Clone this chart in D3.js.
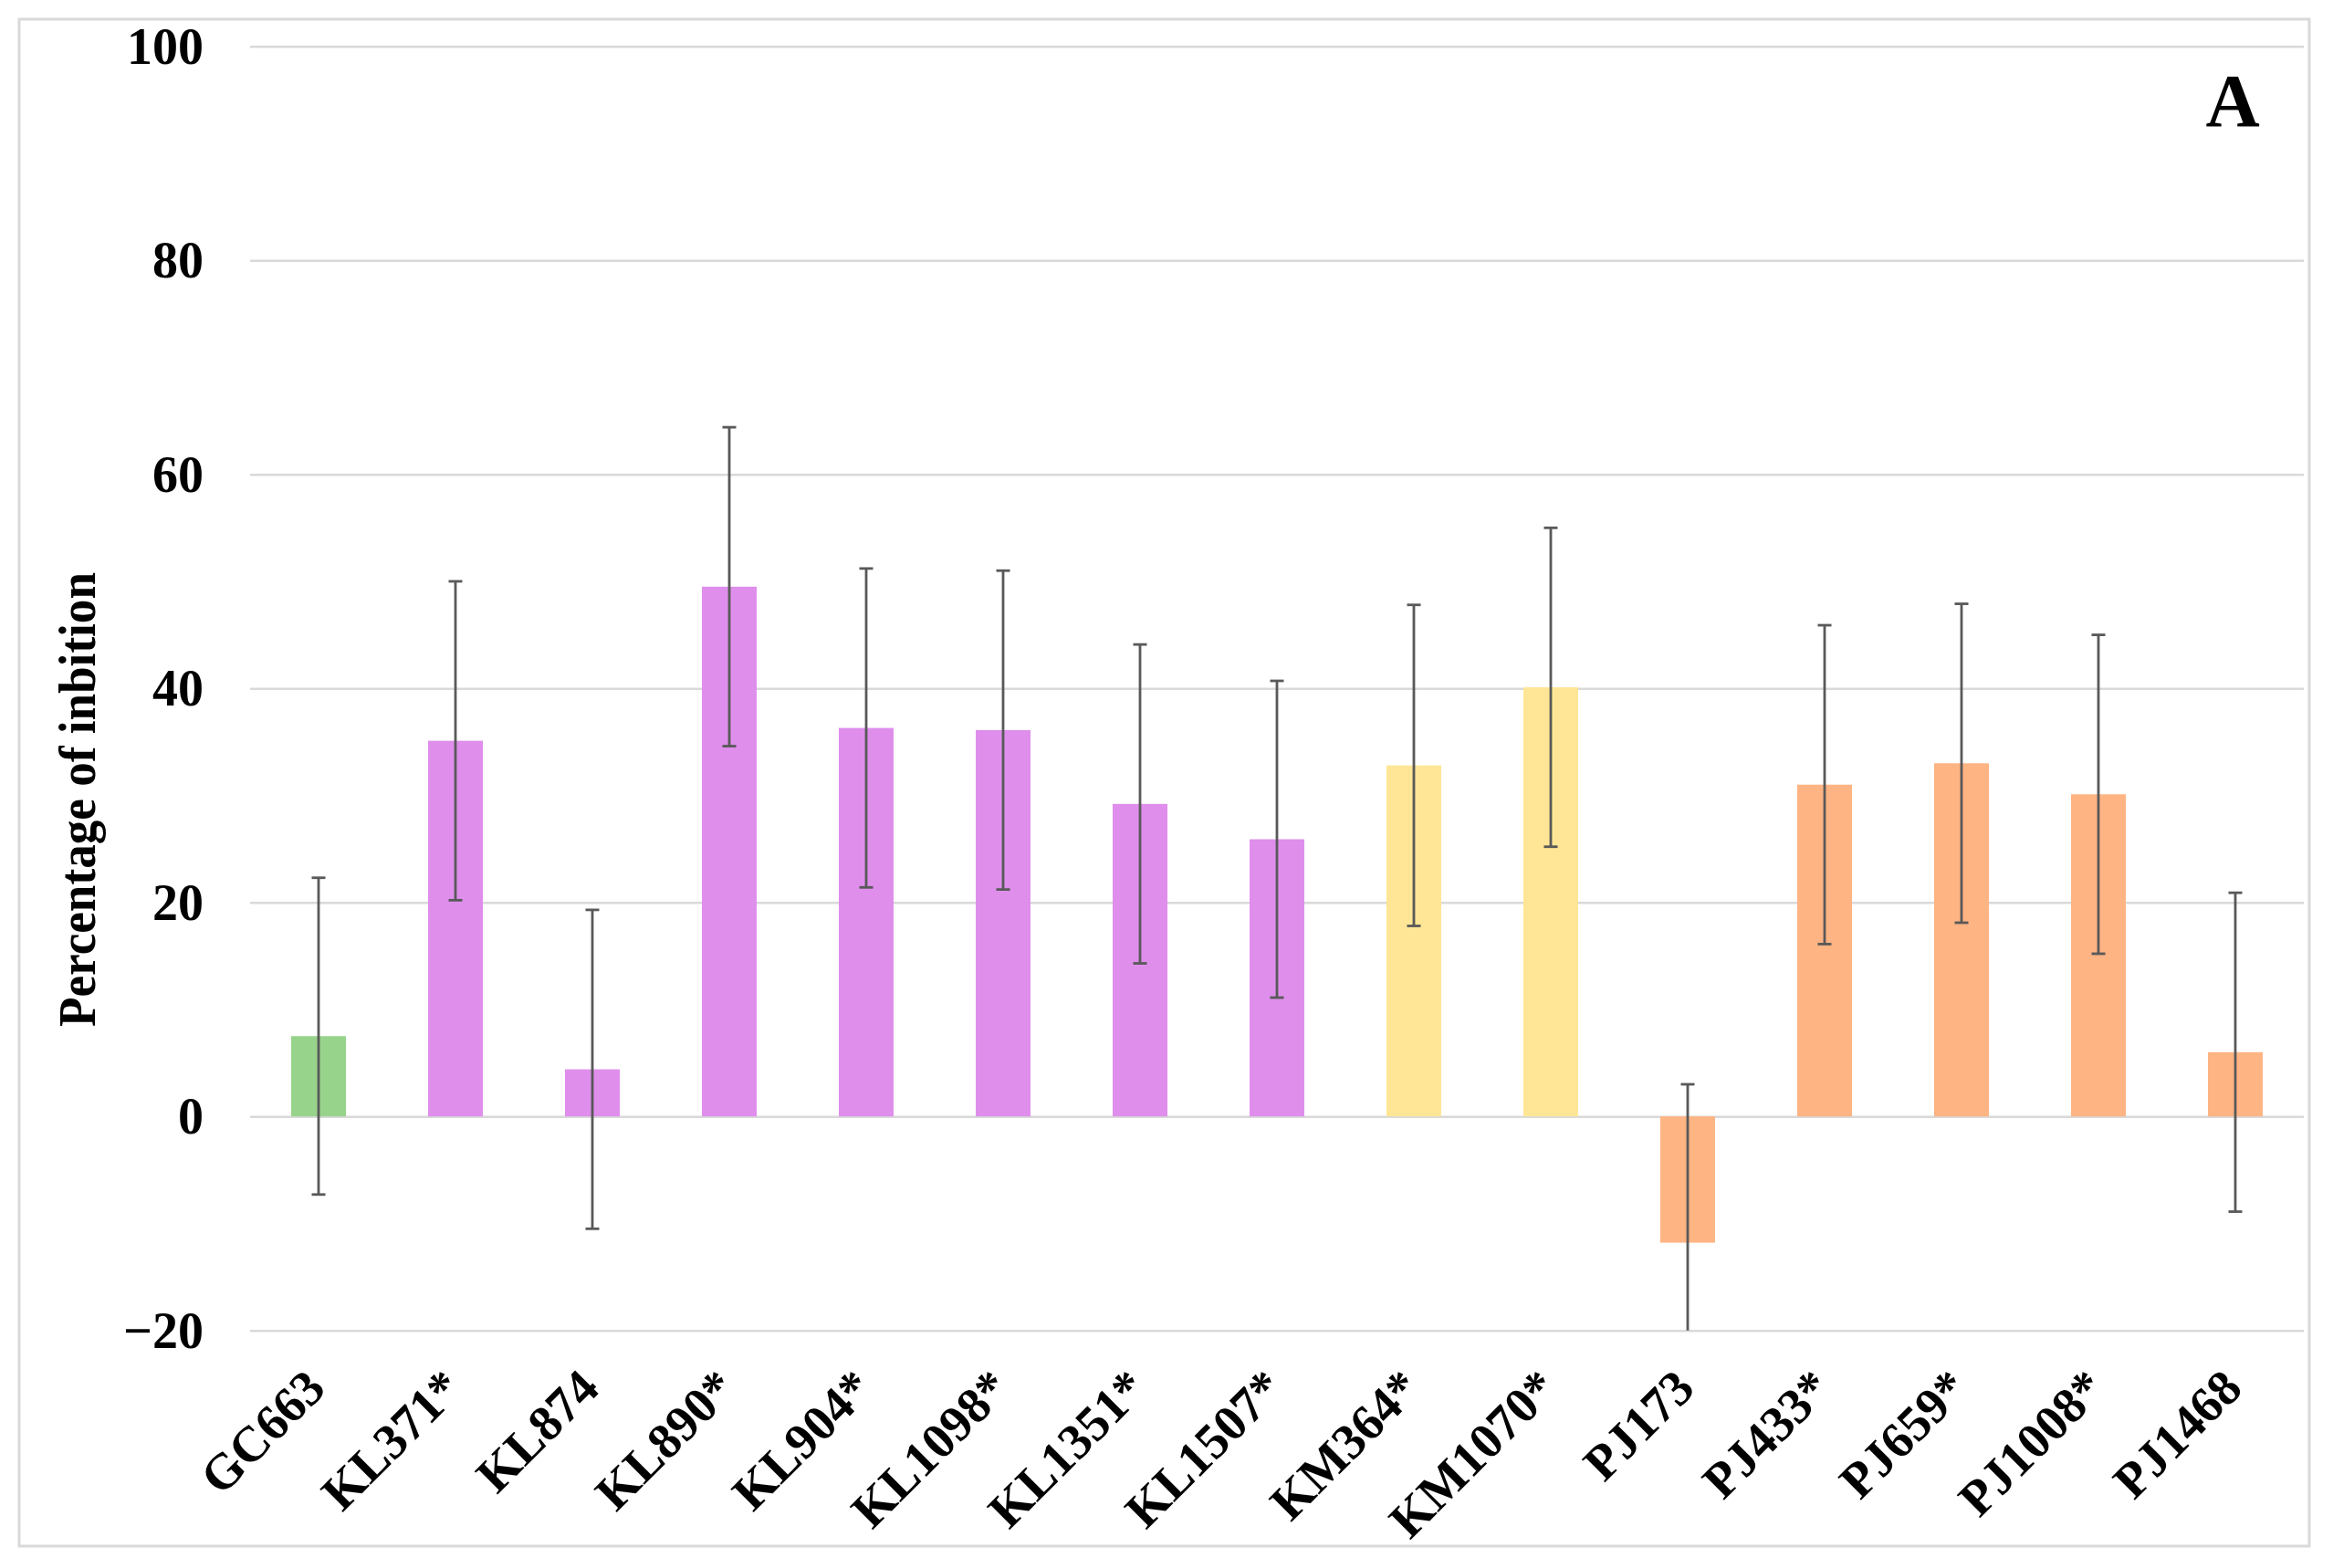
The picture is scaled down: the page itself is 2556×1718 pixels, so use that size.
<!DOCTYPE html>
<html>
<head>
<meta charset="utf-8">
<script src="https://cdn.jsdelivr.net/npm/d3@7"></script>
<style>
  body { margin: 0; background: #fff; }
  svg { display: block; font-family: "Liberation Serif", "Times New Roman", serif; }
</style>
</head>
<body>
<svg id="chart" width="2556" height="1718"></svg>
<script>
// data
const strains = ["GC663", "KL371*", "KL874", "KL890*", "KL904*", "KL1098*", "KL1351*", "KL1507*",
                 "KM364*", "KM1070*", "PJ173", "PJ433*", "PJ659*", "PJ1008*", "PJ1468"];
const inhibition = [7.5, 35.1, 4.4, 49.5, 36.3, 36.1, 29.2, 25.9, 32.8, 40.1, -11.8, 31.0, 33.0, 30.1, 6.0];
const errors = [14.8, 14.9, 14.9, 14.9, 14.9, 14.9, 14.9, 14.8, 15.0, 14.9, 14.8, 14.9, 14.9, 14.9, 14.9];
const groups = ["GC", "KL", "KL", "KL", "KL", "KL", "KL", "KL", "KM", "KM", "PJ", "PJ", "PJ", "PJ", "PJ"];
const yTicks = [-20, 0, 20, 40, 60, 80, 100];

const svg = d3.select("#chart");
const width = +svg.attr("width");
const height = +svg.attr("height");

const rows = strains.map((name, i) => ({
    name,
    value: inhibition[i],
    err: errors[i],
    group: groups[i]
}));

const x = d3.scaleBand()
    .domain(strains)
    .range([274, 2524])
    .paddingInner(0.6)
    .paddingOuter(0.3);

const y = d3.scaleLinear()
    .domain([-20, 100])
    .range([1457.7, 50.7]);

const color = d3.scaleOrdinal()
    .domain(["GC", "KL", "KM", "PJ"])
    .range(["#98d38b", "#df8eec", "#ffe696", "#ffb483"]);

// outer frame
svg.append("rect")
    .attr("x", 21).attr("y", 21)
    .attr("width", 2509).attr("height", 1673)
    .attr("fill", "#fff")
    .attr("stroke", "#d9d9d9")
    .attr("stroke-width", 3);

// y axis + gridlines
const yAxis = svg.append("g")
    .attr("transform", `translate(${x.range()[0]},0)`)
    .call(d3.axisLeft(y)
        .tickValues(yTicks)
        .tickSizeInner(-(x.range()[1] - x.range()[0]))
        .tickSizeOuter(0)
        .tickPadding(51)
        .tickFormat(d => d < 0 ? "\u2212" + Math.abs(d) : d));

yAxis.select(".domain").remove();
yAxis.selectAll(".tick line")
    .attr("stroke", "#d9d9d9")
    .attr("stroke-width", 2.5);
yAxis.selectAll(".tick text")
    .attr("dy", "0.33em")
    .attr("font-size", 56)
    .attr("font-weight", "bold")
    .attr("font-family", "Liberation Serif")
    .attr("fill", "#000");

// bars
svg.append("g")
    .selectAll("rect")
    .data(rows)
    .join("rect")
    .attr("x", d => x(d.name))
    .attr("width", x.bandwidth())
    .attr("y", d => y(Math.max(0, d.value)))
    .attr("height", d => Math.abs(y(d.value) - y(0)))
    .attr("fill", d => color(d.group));

// error bars (clipped to the axis range)
const [yMin, yMax] = y.domain();
const capHalf = 7.5;
const errG = svg.append("g")
    .attr("stroke", "#595959")
    .attr("stroke-width", 2.8)
    .selectAll("g")
    .data(rows)
    .join("g")
    .attr("transform", d => `translate(${x(d.name) + x.bandwidth() / 2},0)`);

errG.append("line")
    .attr("y1", d => y(Math.min(yMax, d.value + d.err)))
    .attr("y2", d => y(Math.max(yMin, d.value - d.err)));

errG.filter(d => d.value + d.err <= yMax)
    .append("line")
    .attr("x1", -capHalf).attr("x2", capHalf)
    .attr("y1", d => y(d.value + d.err))
    .attr("y2", d => y(d.value + d.err));

errG.filter(d => d.value - d.err >= yMin)
    .append("line")
    .attr("x1", -capHalf).attr("x2", capHalf)
    .attr("y1", d => y(d.value - d.err))
    .attr("y2", d => y(d.value - d.err));

// x axis labels, rotated
const xAxis = svg.append("g")
    .attr("transform", `translate(0,${y(yMin)})`)
    .call(d3.axisBottom(x).tickSize(0).tickPadding(0));

xAxis.select(".domain").remove();
xAxis.selectAll(".tick text")
    .attr("y", 0)
    .attr("dy", 0)
    .attr("transform", "translate(10,66) rotate(-45)")
    .attr("text-anchor", "end")
    .attr("font-size", 55)
    .attr("font-weight", "bold")
    .attr("font-family", "Liberation Serif")
    .attr("fill", "#000");

// y axis title
svg.append("text")
    .attr("transform", "translate(104,876) rotate(-90)")
    .attr("text-anchor", "middle")
    .attr("font-size", 58)
    .attr("font-weight", "bold")
    .attr("textLength", 498)
    .attr("lengthAdjust", "spacingAndGlyphs")
    .text("Percentage of inbition");

// panel letter
svg.append("text")
    .attr("x", 2446)
    .attr("y", 138)
    .attr("text-anchor", "middle")
    .attr("font-size", 82)
    .attr("font-weight", "bold")
    .text("A");
</script>
</body>
</html>
